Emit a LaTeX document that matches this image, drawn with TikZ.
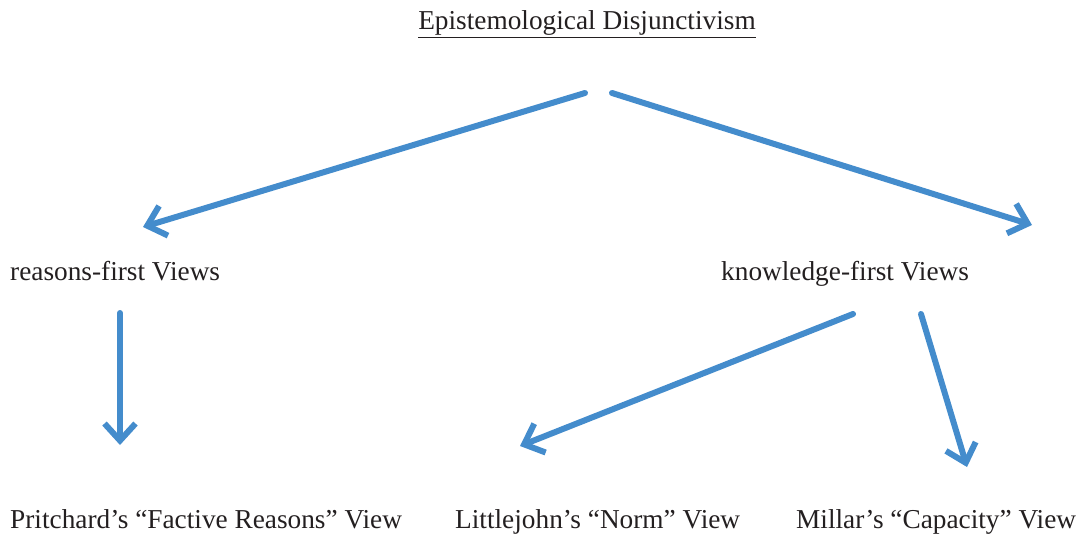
\documentclass[tikz,border=0pt]{standalone}
\usepackage{fontspec}
\setmainfont{Liberation Serif}
\usetikzlibrary{arrows.meta}
\definecolor{arrowblue}{RGB}{68,140,204}
\definecolor{inkgray}{RGB}{35,31,32}
\begin{document}
\begin{tikzpicture}[x=1pt, y=-1pt, line cap=round,
  label/.style={inner sep=0pt, text=inkgray, font=\fontsize{27.3}{32}\selectfont},
  branch/.style={arrowblue, line width=6pt,
    -{Straight Barb[length=17pt, width=31pt, line width=6pt]}}]
  \useasboundingbox (0,0) rectangle (1087,535);
  % 제목
  \node[label, anchor=base] (title) at (587,30) {\underline{Epistemological Disjunctivism}};
  % 둘째 줄
  \node[label, anchor=base west] (reasons) at (10,280) {reasons-first Views};
  \node[label, anchor=base west] (knowledge) at (721,280) {knowledge-first Views};
  % 셋째 줄
  \node[label, anchor=base west] (pritchard) at (10,528) {Pritchard’s “Factive Reasons” View};
  \node[label, anchor=base west] (littlejohn) at (455,528) {Littlejohn’s “Norm” View};
  \node[label, anchor=base west] (millar) at (796,528) {Millar’s “Capacity” View};
  % 화살표 끝점
  \coordinate (t1) at (585,93);
  \coordinate (t2) at (612,93);
  \coordinate (r1) at (143,227);
  \coordinate (k1) at (1032,225);
  \coordinate (r2) at (120,313);
  \coordinate (p1) at (120,445);
  \coordinate (k2) at (853,314);
  \coordinate (l1) at (520,446);
  \coordinate (k3) at (921,314);
  \coordinate (m1) at (967,467);
  % 화살표
  \draw[branch] (t1) -- (r1);
  \draw[branch] (t2) -- (k1);
  \draw[branch] (r2) -- (p1);
  \draw[branch] (k2) -- (l1);
  \draw[branch] (k3) -- (m1);
\end{tikzpicture}
\end{document}
